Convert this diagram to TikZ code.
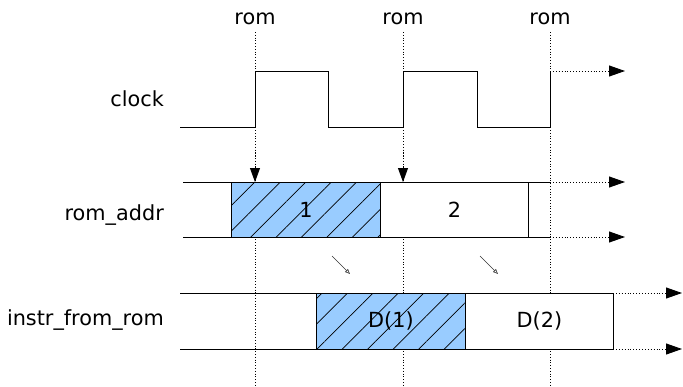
\documentclass[tikz,border=0pt]{standalone}
\usepackage{fontspec}
\setmainfont{DejaVu Sans}
\usetikzlibrary{arrows.meta,patterns.meta}
\definecolor{hatchblue}{RGB}{153,204,255}
\begin{document}
\begin{tikzpicture}[x=1pt,y=-1pt,
  sig/.style={line width=0.9pt},
  guide/.style={dotted,line width=0.8pt},
  ext/.style={dotted,line width=0.9pt,-{Triangle[length=16pt,width=11pt]}},
  clockarrow/.style={guide,-{Triangle[length=14pt,width=10pt]}},
  lbl/.style={font=\fontsize{20.8}{25}\selectfont,inner sep=0pt},
  databox/.style={draw,line width=0.9pt,fill=white,minimum width=148pt,minimum height=55pt,anchor=north west,inner sep=0pt,font=\fontsize{20.8}{25}\selectfont},
  hatchbox/.style={databox,fill=hatchblue,postaction={pattern={Lines[angle=45,distance=18pt,line width=0.7pt]}}},
  delay/.style={line width=0.6pt,draw=black!80,-{Triangle[open,length=5pt,width=4pt]}}
]
\useasboundingbox (0,0) rectangle (683,386);

% guide coordinates
\coordinate (g1t) at (255,32); \coordinate (g1b) at (255,386);
\coordinate (g2t) at (403,32); \coordinate (g2b) at (403,386);
\coordinate (g3t) at (550,32); \coordinate (g3b) at (550,386);
\draw[guide] (g1t) -- (g1b);
\draw[guide] (g2t) -- (g2b);
\draw[guide] (g3t) -- (g3b);

% labels
\node[lbl,anchor=base] (rom1) at (255,24) {rom};
\node[lbl,anchor=base] (rom2) at (403,24) {rom};
\node[lbl,anchor=base] (rom3) at (550,24) {rom};
\node[lbl,anchor=base east] (lclk) at (164,106) {clock};
\node[lbl,anchor=base east] (laddr) at (164,220) {rom\_addr};
\node[lbl,anchor=base east] (linstr) at (164,325) {instr\_from\_rom};

% clock
\coordinate (c0) at (180,127);
\coordinate (cend) at (550,71);
\coordinate (cfree) at (625,71);
\draw[sig] (c0) -- (255,127) -- (255,71) -- (328,71) -- (328,127) -- (403,127)
  -- (403,71) -- (477,71) -- (477,127) -- (550,127) -- (cend);
\draw[ext] (cend) -- (cfree);

% rom_addr
\coordinate (at0) at (183,182); \coordinate (at1) at (550,182); \coordinate (at2) at (625,182);
\coordinate (ab0) at (183,237); \coordinate (ab1) at (550,237); \coordinate (ab2) at (625,237);
\draw[sig] (at0) -- (at1);
\draw[sig] (ab0) -- (ab1);
\draw[ext] (at1) -- (at2);
\draw[ext] (ab1) -- (ab2);
\node[hatchbox,minimum width=149pt] (b1) at (231,182) {1};
\node[databox] (b2) at (380,182) {2};

% instr_from_rom
\coordinate (it0) at (180,293); \coordinate (it1) at (613,293); \coordinate (it2) at (682,293);
\coordinate (ib0) at (180,349); \coordinate (ib1) at (613,349); \coordinate (ib2) at (682,349);
\draw[sig] (it0) -- (it1);
\draw[sig] (ib0) -- (ib1);
\draw[ext] (it1) -- (it2);
\draw[ext] (ib1) -- (ib2);
\node[hatchbox,minimum width=149pt,minimum height=56pt] (d1) at (316,293) {D(1)};
\node[databox,minimum height=56pt] (d2) at (465,293) {D(2)};

% clock edge arrows
\coordinate (k1) at (255,150); \coordinate (k2) at (403,150);
\draw[clockarrow] (k1) -- (b1.north -| k1);
\draw[clockarrow] (k2) -- (b2.north -| k2);

% delay arrows
\coordinate (s1) at (332,256); \coordinate (e1) at (350,274);
\coordinate (s2) at (480,256); \coordinate (e2) at (498,274);
\draw[delay] (s1) -- (e1);
\draw[delay] (s2) -- (e2);
\end{tikzpicture}
\end{document}
